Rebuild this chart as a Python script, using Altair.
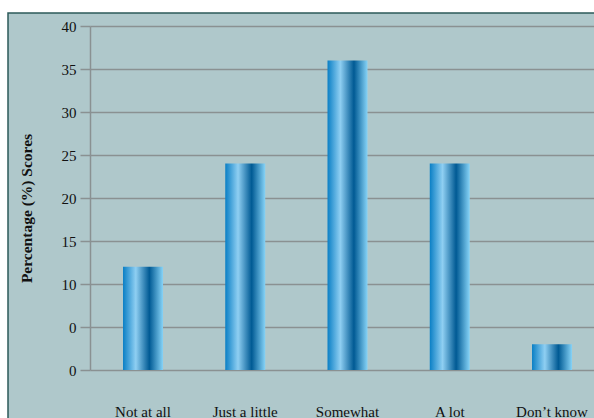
import altair as alt
import pandas as pd

categories = ["Not at all", "Just a  little", "Somewhat", "A lot", "Don\u2019t know"]
values = [12, 24, 36, 24, 3]
y_tick_values = [0, 5, 10, 15, 20, 25, 30, 35, 40]
y_tick_labels = ["0", "0", "10", "15", "20", "25", "30", "35", "40"]

df = pd.DataFrame({"cat": categories, "val": values})
one = pd.DataFrame({"k": [0]})

expr = ""
for v, lab in zip(y_tick_values, y_tick_labels):
    expr += f"datum.value == {v} ? '{lab}' : "
expr += "datum.label"

FONT = "Liberation Serif"
BG = "#afc8cb"
GRID = "#8a9192"

grad = alt.Gradient(
    gradient="linear", x1=0, x2=1, y1=0, y2=0,
    stops=[
        alt.GradientStop(offset=0, color="#0a7fc5"),
        alt.GradientStop(offset=0.32, color="#8fcff2"),
        alt.GradientStop(offset=0.66, color="#005a94"),
        alt.GradientStop(offset=1, color="#86d3f7"),
    ],
)

bars = alt.Chart(df).mark_bar(color=grad).encode(
    x=alt.X("cat:N", sort=categories,
            scale=alt.Scale(paddingInner=0.609, paddingOuter=0.269, align=0.6),
            axis=alt.Axis(title=None, labelAngle=0, domain=False, ticks=False,
                          labelPadding=34, labelFont=FONT, labelFontSize=15,
                          labelColor="#111111", labelBaseline="top")),
    y=alt.Y("val:Q", scale=alt.Scale(domain=[0, 40], nice=False),
            axis=alt.Axis(values=y_tick_values, labelExpr=expr,
                          title="Percentage (%) Scores", titleFont=FONT,
                          titleFontSize=15.5, titleFontWeight="bold",
                          titleColor="#111111", titlePadding=27, titleY=182,
                          labelFont=FONT, labelFontSize=15, labelColor="#111111",
                          labelPadding=4, tickSize=10, tickColor=GRID, tickWidth=1.5,
                          domainColor=GRID, domainWidth=1.5,
                          grid=True, gridColor=GRID, gridWidth=1.6)),
)

white_left = alt.Chart(one).mark_rect(color="white").encode(
    x=alt.value(-95), x2=alt.value(-82), y=alt.value(-30), y2=alt.value(400))
white_top = alt.Chart(one).mark_rect(color="white").encode(
    x=alt.value(-95), x2=alt.value(508), y=alt.value(-30), y2=alt.value(-13))
border = alt.Chart(one).mark_rect(fill=None, stroke="#2c5a5a", strokeWidth=1.5).encode(
    x=alt.value(-82), x2=alt.value(508), y=alt.value(-13), y2=alt.value(400))

chart = alt.layer(white_left, white_top, border, bars).properties(
    width=504, height=344,
    background=BG,
    padding={"left": 90, "top": 26, "right": 0, "bottom": 48},
    autosize=alt.AutoSizeParams(type="none"),
).configure_view(stroke=None)

chart.save("out.html", embed_options={"renderer": "svg", "actions": False})
